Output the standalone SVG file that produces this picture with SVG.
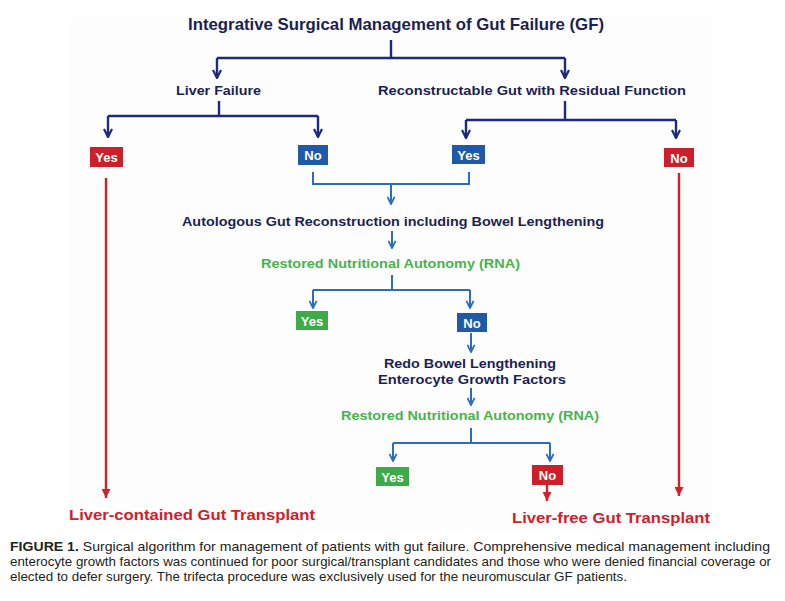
<svg xmlns="http://www.w3.org/2000/svg" width="785" height="601" viewBox="0 0 785 601">
<defs>
<style>
.t{font-family:"Liberation Sans",Arial,sans-serif;font-weight:bold;text-anchor:middle}
.navy{fill:#1c1f55}
.green{fill:#45b549}
.red{fill:#d0202a}
.bt{font-family:"Liberation Sans",Arial,sans-serif;font-weight:bold;font-size:13px;fill:#fff;text-anchor:middle}
.cn{fill:none;stroke:#1e2a7c;stroke-width:2.4}
.cb{fill:none;stroke:#2a6cc0;stroke-width:2}
.cr{fill:none;stroke:#d0202a;stroke-width:2.4}
.cap{font-family:"Liberation Sans Narrow","Liberation Sans",Arial,sans-serif;font-size:13.5px;fill:#222}
</style>
<marker id="an" viewBox="0 0 10 10" refX="9" refY="5" markerWidth="10" markerHeight="10" markerUnits="userSpaceOnUse" orient="auto">
<path d="M1,1 L9,5 L1,9" fill="none" stroke="#1e2a7c" stroke-width="2.2"/>
</marker>
<marker id="ab" viewBox="0 0 10 10" refX="9" refY="5" markerWidth="9" markerHeight="9" markerUnits="userSpaceOnUse" orient="auto">
<path d="M1,1 L9,5 L1,9" fill="none" stroke="#2a6cc0" stroke-width="2"/>
</marker>
<marker id="ar" viewBox="0 0 10 10" refX="10" refY="5" markerWidth="10" markerHeight="9" markerUnits="userSpaceOnUse" orient="auto">
<path d="M0,0 L10,5 L0,10 z" fill="#d0202a"/>
</marker>
</defs>
<rect width="785" height="601" fill="#ffffff"/>
<rect x="70" y="18" width="642" height="512" fill="#fdfdfd"/>

<g id="connectors">
<path class="cn" d="M391,40 V58 M217,58 H565"/>
<path class="cn" d="M217,58 V78" marker-end="url(#an)"/>
<path class="cn" d="M565,58 V78" marker-end="url(#an)"/>
<path class="cn" d="M219,101 V116 M108,116 H318"/>
<path class="cn" d="M108,116 V137" marker-end="url(#an)"/>
<path class="cn" d="M318,116 V137" marker-end="url(#an)"/>
<path class="cn" d="M565,101 V120 M466,120 H676"/>
<path class="cn" d="M466,120 V138" marker-end="url(#an)"/>
<path class="cn" d="M676,120 V138" marker-end="url(#an)"/>
<path class="cr" d="M106,178 V498" marker-end="url(#ar)"/>
<path class="cr" d="M679,173 V496" marker-end="url(#ar)"/>
<path class="cb" d="M313,172 V184 H469 V172"/>
<path class="cb" d="M391,184 V204" marker-end="url(#ab)"/>
<path class="cb" d="M392,231 V248" marker-end="url(#ab)"/>
<path class="cb" d="M392,275 V290 M313,290 H470"/>
<path class="cb" d="M313,290 V308" marker-end="url(#ab)"/>
<path class="cb" d="M470,290 V308" marker-end="url(#ab)"/>
<path class="cb" d="M471,333 V352" marker-end="url(#ab)"/>
<path class="cb" d="M471,388 V405" marker-end="url(#ab)"/>
<path class="cb" d="M471,428 V443 M393,443 H550"/>
<path class="cb" d="M393,443 V461" marker-end="url(#ab)"/>
<path class="cb" d="M550,443 V461" marker-end="url(#ab)"/>
<path class="cr" d="M547,485 V501" marker-end="url(#ar)"/>
</g>

<g id="title"><text class="t navy" x="396" y="30" font-size="16.5" textLength="416" lengthAdjust="spacingAndGlyphs">Integrative Surgical Management of Gut Failure (GF)</text></g>
<g id="liver-failure"><text class="t navy" x="218.5" y="95" font-size="13.5" textLength="85" lengthAdjust="spacingAndGlyphs">Liver Failure</text></g>
<g id="reconstructable"><text class="t navy" x="532" y="95" font-size="13.5" textLength="308" lengthAdjust="spacingAndGlyphs">Reconstructable Gut with Residual Function</text></g>

<g id="lf-yes"><rect x="90" y="147" width="33" height="20" fill="#cc1f2a"/><text class="bt" x="106.5" y="162">Yes</text></g>
<g id="lf-no"><rect x="298" y="145" width="30" height="20" fill="#1f5aa8"/><text class="bt" x="313" y="160">No</text></g>
<g id="rg-yes"><rect x="452" y="145" width="33" height="19" fill="#1f5aa8"/><text class="bt" x="468.5" y="159.5">Yes</text></g>
<g id="rg-no"><rect x="664" y="148" width="30" height="19" fill="#cc1f2a"/><text class="bt" x="679" y="162.5">No</text></g>

<g id="autologous"><text class="t navy" x="393" y="226" font-size="13.5" textLength="422" lengthAdjust="spacingAndGlyphs">Autologous Gut Reconstruction including Bowel Lengthening</text></g>
<g id="rna1"><text class="t green" x="390.5" y="268" font-size="13.5" textLength="259" lengthAdjust="spacingAndGlyphs">Restored Nutritional Autonomy (RNA)</text></g>

<g id="rna1-yes"><rect x="296" y="311" width="32" height="19" fill="#3dac48"/><text class="bt" x="312" y="325.5">Yes</text></g>
<g id="rna1-no"><rect x="457" y="313" width="30" height="19" fill="#1f5aa8"/><text class="bt" x="472" y="327.5">No</text></g>

<g id="redo"><text class="t navy" x="470" y="368" font-size="13.5" textLength="172" lengthAdjust="spacingAndGlyphs">Redo Bowel Lengthening</text><text class="t navy" x="472" y="384" font-size="13.5" textLength="188" lengthAdjust="spacingAndGlyphs">Enterocyte Growth Factors</text></g>
<g id="rna2"><text class="t green" x="470" y="420" font-size="13.5" textLength="258" lengthAdjust="spacingAndGlyphs">Restored Nutritional Autonomy (RNA)</text></g>

<g id="rna2-yes"><rect x="376" y="467" width="33" height="19" fill="#3dac48"/><text class="bt" x="392.5" y="481.5">Yes</text></g>
<g id="rna2-no"><rect x="532" y="465" width="31" height="20" fill="#cc1f2a"/><text class="bt" x="547.5" y="480">No</text></g>

<g id="liver-contained"><text class="t red" x="192" y="520" font-size="15.5" textLength="246" lengthAdjust="spacingAndGlyphs">Liver-contained Gut Transplant</text></g>
<g id="liver-free"><text class="t red" x="611" y="523" font-size="15.5" textLength="198" lengthAdjust="spacingAndGlyphs">Liver-free Gut Transplant</text></g>

<g id="caption">
<text class="cap" x="10" y="551" textLength="760" lengthAdjust="spacingAndGlyphs"><tspan font-weight="bold">FIGURE 1.</tspan> Surgical algorithm for management of patients with gut failure. Comprehensive medical management including</text>
<text class="cap" x="10" y="566" textLength="761" lengthAdjust="spacingAndGlyphs">enterocyte growth factors was continued for poor surgical/transplant candidates and those who were denied financial coverage or</text>
<text class="cap" x="10" y="581" textLength="617" lengthAdjust="spacingAndGlyphs">elected to defer surgery. The trifecta procedure was exclusively used for the neuromuscular GF patients.</text>
</g>
</svg>
